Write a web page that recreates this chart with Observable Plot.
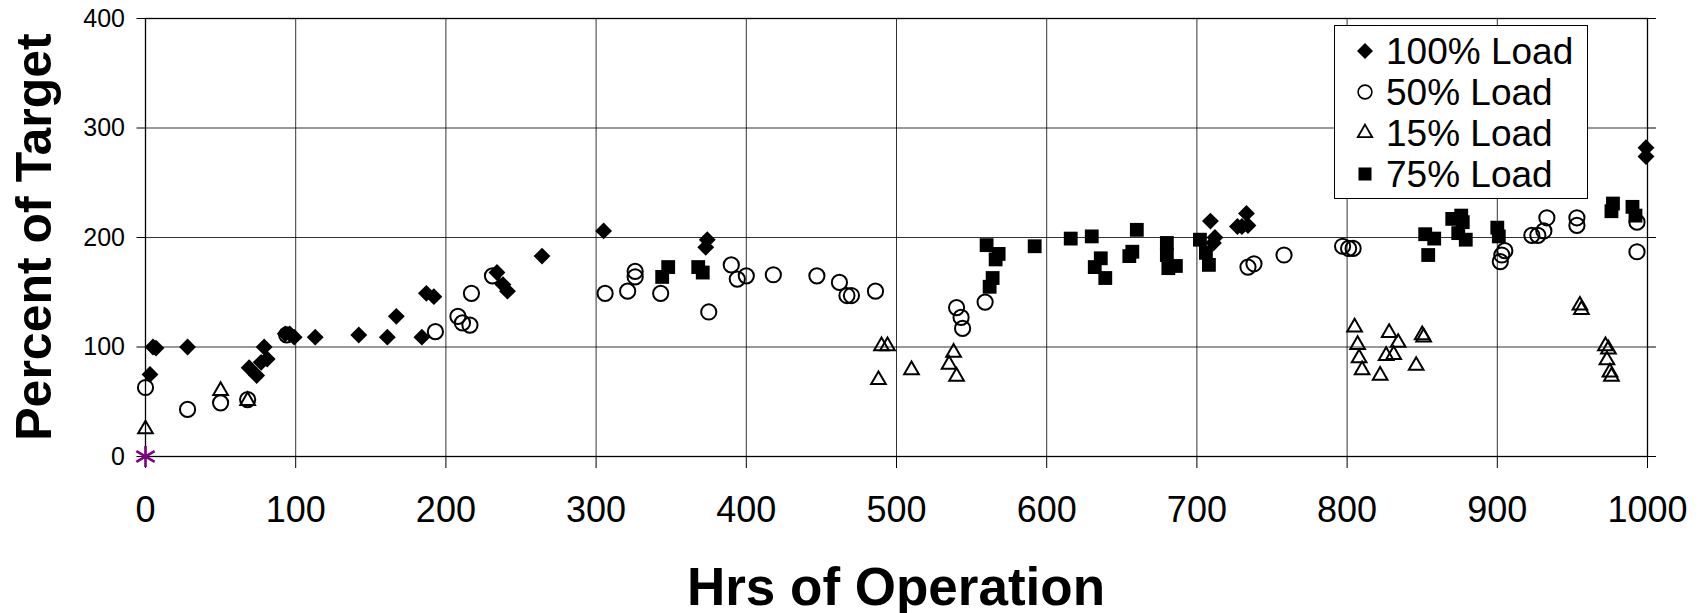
<!DOCTYPE html>
<html><head><meta charset="utf-8">
<script src="https://cdn.jsdelivr.net/npm/d3@7"></script>
<script src="https://cdn.jsdelivr.net/npm/@observablehq/plot@0.6"></script>
<style>
html,body{margin:0;padding:0;background:#fff;}
#wrap{position:relative;width:1702px;height:613px;font-family:"Liberation Sans",Arial,sans-serif;}
</style></head><body><div id="wrap"></div>
<script>
// [hours of operation, percent of target]
const load100 = [[3,75],[5,100],[7,99],[28,100],[69,81],[74,74],[77,86],[79,100],[81,89],[93,112],[96,112],[99,109],[113,109],[142,111],[161,109],[167,128],[184,109],[187,149],[192,146],[234,168],[238,157],[241,151],[264,183],[305,206],[374,198],[373,191],[709,215],[711,195],[712,200],[727,210],[730,210],[733,222],[734,211],[999,282],[999,274]];
const load50 = [[0,63],[28,43],[50,49],[68,52],[94,111],[193,114],[208,128],[211,122],[216,120],[217,149],[231,165],[306,149],[321,151],[326,169],[326,164],[343,149],[375,132],[390,175],[394,162],[400,165],[418,166],[447,165],[462,159],[467,147],[470,147],[486,151],[540,136],[543,127],[544,117],[559,141],[734,173],[738,176],[758,184],[797,192],[801,190],[804,190],[902,178],[903,184],[905,188],[923,202],[927,202],[931,206],[933,218],[953,218],[953,211],[993,214],[993,187]];
const load15 = [[0,25],[50,60],[68,51],[488,70],[490,101],[494,101],[510,79],[535,84],[538,95],[540,73],[805,118],[807,102],[808,90],[810,79],[822,74],[826,92],[828,113],[831,93],[834,104],[846,83],[850,111],[851,109],[955,138],[956,134],[972,101],[974,98],[973,88],[975,77],[976,73]];
const load75 = [[344,164],[348,173],[368,173],[371,168],[560,193],[562,155],[564,163],[566,180],[568,185],[592,192],[616,199],[630,201],[632,173],[636,181],[639,163],[655,183],[657,187],[660,207],[680,195],[680,184],[681,172],[686,174],[702,198],[706,186],[708,175],[852,203],[854,184],[858,199],[870,217],[874,204],[876,220],[877,214],[879,198],[900,209],[901,201],[976,224],[977,231],[990,228],[992,220]];
const origin = [[0,0]];

const xTicks = [0,100,200,300,400,500,600,700,800,900,1000];
const yTicks = [0,100,200,300,400];
const seriesNames = ["100% Load","50% Load","15% Load","75% Load"];
const xTitle = "Hrs of Operation";
const yTitle = "Percent of Target";

const FONT = "Liberation Sans, Arial, sans-serif";
const X = d => d[0], Y = d => d[1];

const chart = Plot.plot({
  width: 1702, height: 613,
  marginLeft: 145, marginRight: 55, marginTop: 18, marginBottom: 157,
  style: {fontFamily: FONT, color: "#000", background: "#fff", overflow: "visible"},
  x: {domain: [0, 1000]},
  y: {domain: [0, 400]},
  marks: [
    Plot.gridX(xTicks, {stroke: "#000", strokeOpacity: 0.8, strokeWidth: 1}),
    Plot.gridY(yTicks, {stroke: "#000", strokeOpacity: 0.8, strokeWidth: 1}),
    Plot.axisX(xTicks, {tickSize: 12, tickPadding: 28, fontSize: 36, label: null, tickFormat: d => String(d)}),
    Plot.axisY(yTicks, {tickSize: 8.5, tickPadding: 12, fontSize: 25, label: null, tickFormat: d => String(d)}),
    Plot.axisY(yTicks, {anchor: "right", tickSize: 8, tickFormat: () => "", label: null}),
    Plot.frame({stroke: "#000", strokeWidth: 1.3}),
    Plot.dot(load100, {x: X, y: Y, symbol: "diamond2", r: 7.6, fill: "#000"}),
    Plot.dot(load50, {x: X, y: Y, symbol: "circle", r: 7.6, fill: "none", stroke: "#000", strokeWidth: 2}),
    Plot.dot(load15, {x: X, y: Y, symbol: "triangle2", r: 7, fill: "none", stroke: "#000", strokeWidth: 2}),
    Plot.dot(load75, {x: X, y: Y, symbol: "square", r: 7.8, fill: "#000"}),
    Plot.dot(origin, {x: X, y: Y, symbol: "asterisk", r: 10, stroke: "#800080", strokeWidth: 2.6})
  ]
});
document.getElementById("wrap").appendChild(chart);

const svg = d3.select(chart);
svg.append("text")
  .attr("transform", "translate(51,237) rotate(-90)")
  .attr("text-anchor", "middle")
  .attr("font-family", FONT).attr("font-size", 50).attr("font-weight", "bold").attr("fill", "#000")
  .text(yTitle);
svg.append("text")
  .attr("x", 896).attr("y", 605)
  .attr("text-anchor", "middle")
  .attr("font-family", FONT).attr("font-size", 53).attr("font-weight", "bold").attr("fill", "#000")
  .text(xTitle);

// legend
const legSymbols = [
  {type: d3.symbolDiamond2, size: 163, fill: "#000", stroke: "none", sw: 0},
  {type: d3.symbolCircle, size: 150, fill: "none", stroke: "#000", sw: 1.6},
  {type: d3.symbolTriangle2, size: 150, fill: "none", stroke: "#000", sw: 1.8},
  {type: d3.symbolSquare, size: 170, fill: "#000", stroke: "none", sw: 0}
];
const leg = d3.select("#wrap").append("svg")
  .style("position", "absolute").style("left", "1334px").style("top", "25px")
  .attr("width", 255).attr("height", 175);
leg.append("rect").attr("x", 0.5).attr("y", 0.5).attr("width", 253).attr("height", 173)
  .attr("fill", "#fff").attr("stroke", "#000").attr("stroke-width", 1);
seriesNames.forEach((name, i) => {
  const cy = 26 + i * 41;
  const s = legSymbols[i];
  leg.append("path").attr("transform", `translate(31,${cy})`)
    .attr("d", d3.symbol(s.type, s.size)())
    .attr("fill", s.fill).attr("stroke", s.stroke).attr("stroke-width", s.sw);
  leg.append("text").attr("x", 52).attr("y", cy + 12.5)
    .attr("font-family", FONT).attr("font-size", 37).attr("fill", "#000")
    .text(name);
});
</script></body></html>
